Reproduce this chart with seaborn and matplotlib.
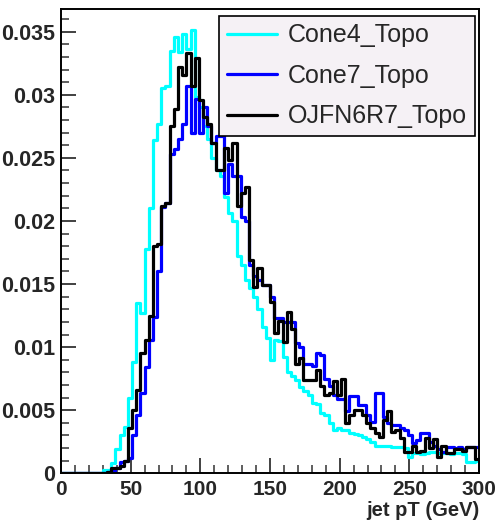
import numpy as np
import pandas as pd
import matplotlib
matplotlib.use("Agg")
import matplotlib.pyplot as plt
import seaborn as sns

# -------------------------------
# Data: jet pT spectra, 100 bins of 3 GeV from 0 to 300
# -------------------------------
bin_edges = np.linspace(0, 300, 101)

cone4_topo = [
    0, 0, 0, 0, 0, 0, 0, 0, 0, 0,
    0.0003, 0.0003, 0.0008, 0.0019, 0.0030, 0.0037, 0.0060, 0.0088, 0.0135, 0.0127,
    0.0178, 0.0210, 0.0264, 0.0277, 0.0305, 0.0307, 0.0335, 0.0346, 0.0334, 0.0348,
    0.0336, 0.0351, 0.0298, 0.0290, 0.0275, 0.0265, 0.0250, 0.0240, 0.0236, 0.0219,
    0.0206, 0.0200, 0.0172, 0.0165, 0.0153, 0.0147, 0.0140, 0.0130, 0.0116, 0.0107,
    0.0090, 0.0106, 0.0105, 0.0092, 0.0080, 0.0077, 0.0074, 0.0068, 0.0065, 0.0062,
    0.0056, 0.0055, 0.0048, 0.0046, 0.0040, 0.0034, 0.0036, 0.0034, 0.0034, 0.0032,
    0.0031, 0.0030, 0.0029, 0.0027, 0.0025, 0.0022, 0.0022, 0.0022, 0.0022, 0.0021,
    0.0021, 0.0021, 0.0020, 0.0013, 0.0016, 0.0016, 0.0015, 0.0016, 0.0017, 0.0017,
    0.0016, 0.0016, 0.0016, 0.0015, 0.0016, 0.0016, 0.0015, 0.0009, 0.0009, 0.0010,
]

cone7_topo = [
    0, 0, 0, 0, 0, 0, 0, 0, 0, 0,
    0, 0.0001, 0.0002, 0.0004, 0.0009, 0.0010, 0.0012, 0.0030, 0.0046, 0.0064,
    0.0084, 0.0106, 0.0124, 0.0160, 0.0211, 0.0214, 0.0253, 0.0257, 0.0265, 0.0277,
    0.0307, 0.0270, 0.0297, 0.0270, 0.0290, 0.0275, 0.0262, 0.0267, 0.0267, 0.0222,
    0.0245, 0.0236, 0.0236, 0.0203, 0.0200, 0.0165, 0.0156, 0.0153, 0.0149, 0.0149,
    0.0140, 0.0123, 0.0123, 0.0120, 0.0120, 0.0120, 0.0103, 0.0100, 0.0087, 0.0087,
    0.0085, 0.0095, 0.0094, 0.0075, 0.0069, 0.0062, 0.0059, 0.0059, 0.0049, 0.0061,
    0.0061, 0.0054, 0.0054, 0.0046, 0.0041, 0.0064, 0.0064, 0.0045, 0.0040, 0.0038,
    0.0038, 0.0036, 0.0034, 0.0030, 0.0024, 0.0026, 0.0032, 0.0032, 0.0025, 0.0022,
    0.0019, 0.0017, 0.0021, 0.0021, 0.0020, 0.0021, 0.0019, 0.0021, 0.0021, 0.0021,
]

ojfn6r7_topo = [
    0, 0, 0, 0, 0, 0, 0, 0, 0, 0,
    0, 0.0001, 0.0004, 0.0004, 0.0006, 0.0010, 0.0036, 0.0050, 0.0066, 0.0095,
    0.0106, 0.0125, 0.0180, 0.0182, 0.0212, 0.0214, 0.0275, 0.0289, 0.0322, 0.0316,
    0.0333, 0.0307, 0.0329, 0.0296, 0.0282, 0.0277, 0.0262, 0.0240, 0.0240, 0.0258,
    0.0248, 0.0262, 0.0212, 0.0222, 0.0227, 0.0169, 0.0148, 0.0163, 0.0149, 0.0149,
    0.0136, 0.0111, 0.0121, 0.0104, 0.0128, 0.0114, 0.0087, 0.0091, 0.0074, 0.0074,
    0.0074, 0.0082, 0.0069, 0.0062, 0.0064, 0.0073, 0.0062, 0.0075, 0.0040, 0.0046,
    0.0050, 0.0050, 0.0046, 0.0040, 0.0036, 0.0032, 0.0029, 0.0042, 0.0049, 0.0033,
    0.0034, 0.0028, 0.0017, 0.0017, 0.0022, 0.0017, 0.0018, 0.0028, 0.0020, 0.0027,
    0.0013, 0.0022, 0.0016, 0.0016, 0.0019, 0.0019, 0.0018, 0.0021, 0.0021, 0.0011,
]

series_names = ["Cone4_Topo", "Cone7_Topo", "OJFN6R7_Topo"]
series_colors = ["#00ffff", "#0000ff", "#000000"]

x_ticks = [0, 50, 100, 150, 200, 250, 300]
x_tick_labels = ["0", "50", "100", "150", "200", "250", "300"]
y_ticks = [0, 0.005, 0.01, 0.015, 0.02, 0.025, 0.03, 0.035]
y_tick_labels = ["0", "0.005", "0.01", "0.015", "0.02", "0.025", "0.03", "0.035"]

# -------------------------------
# Style
# -------------------------------
sns.set_theme(style="white")
plt.rcParams["font.family"] = ["Liberation Sans", "DejaVu Sans"]

fig = plt.figure(figsize=(4.97, 5.22), dpi=100)
ax = fig.add_axes([0.1227, 0.0933, 0.8411, 0.8895])

centers = 0.5 * (bin_edges[:-1] + bin_edges[1:])
for name, vals, col in zip(series_names, [cone4_topo, cone7_topo, ojfn6r7_topo], series_colors):
    df = pd.DataFrame({"pt": centers, "w": vals})
    sns.histplot(data=df, x="pt", weights="w", bins=list(bin_edges), element="step",
                 fill=False, color=col, linewidth=2.3, label=name, ax=ax)

ax.set_xlim(0, 300)
ax.set_ylim(0, 0.0368)

ax.set_xticks(x_ticks)
ax.set_xticklabels(x_tick_labels, fontsize=15, fontweight="bold")
ax.set_yticks(y_ticks)
ax.set_yticklabels(y_tick_labels, fontsize=15.5, fontweight="bold")
ax.set_xticks(np.arange(0, 301, 10), minor=True)
ax.set_yticks(np.arange(0, 0.0366, 0.001), minor=True)
ax.tick_params(axis="both", which="major", direction="in", length=11, width=1.3,
               color="#333333")
ax.tick_params(axis="y", which="major", pad=4)
ax.tick_params(axis="x", which="major", pad=5)
ax.tick_params(axis="both", which="minor", direction="in", length=5.5, width=1.1,
               color="#333333")
ax.tick_params(axis="y", which="both", left=True)
ax.tick_params(axis="x", which="both", bottom=True)

for sp in ax.spines.values():
    sp.set_color("black")
    sp.set_linewidth(1.4)

ax.set_ylabel("")
ax.set_xlabel("jet pT (GeV)", fontsize=14.5, fontweight="bold", loc="right", labelpad=1)

leg = ax.legend(loc="upper right", bbox_to_anchor=(0.990, 0.985), fontsize=18,
                frameon=True, fancybox=False, handlelength=2.0, handletextpad=0.45,
                borderpad=0.3, labelspacing=0.66, borderaxespad=0)
leg.get_frame().set_facecolor("#f5f1f5")
leg.get_frame().set_edgecolor("black")
leg.get_frame().set_linewidth(1.2)
leg.get_frame().set_alpha(1)

fig.savefig("out.png", dpi=100)
